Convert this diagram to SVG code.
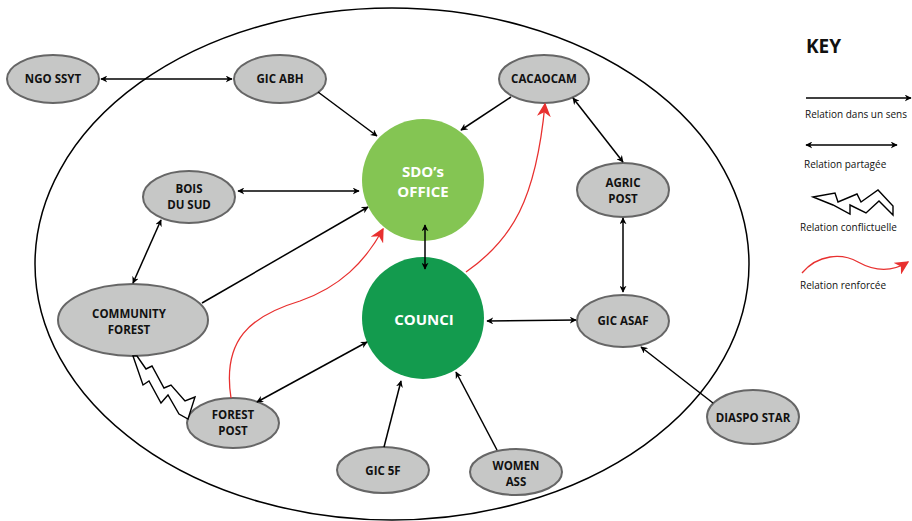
<svg xmlns="http://www.w3.org/2000/svg" width="912" height="521" viewBox="0 0 912 521">
<defs>
<marker id="ah" viewBox="0 0 10 10" refX="9" refY="5" markerWidth="7" markerHeight="7" orient="auto-start-reverse" markerUnits="userSpaceOnUse">
<path d="M0,0 L10,5 L0,10 L3,5 Z" fill="#000"/>
</marker>
<marker id="rh" viewBox="0 0 10 10" refX="9" refY="5" markerWidth="14" markerHeight="14" orient="auto" markerUnits="userSpaceOnUse">
<path d="M0,0 L10,5 L0,10 L3,5 Z" fill="#e8302f"/>
</marker>
<style>
.n ellipse{fill:#c6c7c6;stroke:#666;stroke-width:2}
.n text{font-family:"Open Sans","Liberation Sans",sans-serif;font-weight:bold;font-size:11.5px;fill:#111;text-anchor:middle}
.c text{font-family:"Open Sans","Liberation Sans",sans-serif;font-weight:bold;font-size:15px;fill:#fff;text-anchor:middle}
.l{fill:none;stroke:#000;stroke-width:1.5}
.one{marker-end:url(#ah)}
.two{marker-start:url(#ah);marker-end:url(#ah)}
.red{fill:none;stroke:#e8302f;stroke-width:1.3;marker-end:url(#rh)}
.zz{fill:#fff;stroke:#000;stroke-width:1.4;stroke-linejoin:miter}
.k{font-family:"Open Sans","Liberation Sans",sans-serif;font-size:10px;fill:#111}
</style>
</defs>
<rect width="912" height="521" fill="#fff"/>
<ellipse cx="392" cy="264" rx="357" ry="256" fill="none" stroke="#000" stroke-width="1.5"/>

<g id="sdo" class="c">
<circle cx="423" cy="180" r="61" fill="#84c553"/>
<text x="423" y="177">SDO’s</text>
<text x="423" y="197">OFFICE</text>
</g>
<g id="council" class="c">
<circle cx="423" cy="318" r="61" fill="#139b4e"/>
<text x="424" y="325">COUNCI</text>
</g>

<g id="ngo-ssyt" class="n"><ellipse cx="53" cy="79" rx="46" ry="24"/><text x="53" y="83">NGO SSYT</text></g>
<g id="gic-abh" class="n"><ellipse cx="280" cy="79" rx="46" ry="24"/><text x="280" y="83">GIC ABH</text></g>
<g id="cacaocam" class="n"><ellipse cx="544" cy="79" rx="45" ry="24"/><text x="544" y="83">CACAOCAM</text></g>
<g id="agric-post" class="n"><ellipse cx="623" cy="190" rx="46" ry="27"/><text x="623" y="187">AGRIC</text><text x="623" y="203">POST</text></g>
<g id="gic-asaf" class="n"><ellipse cx="623" cy="321" rx="46" ry="26"/><text x="623" y="325">GIC ASAF</text></g>
<g id="diaspo-star" class="n"><ellipse cx="753" cy="417" rx="46" ry="27"/><text x="753" y="422">DIASPO STAR</text></g>
<g id="bois-du-sud" class="n"><ellipse cx="189" cy="197" rx="46" ry="26"/><text x="189" y="193">BOIS</text><text x="189" y="209">DU SUD</text></g>
<g id="community-forest" class="n"><ellipse cx="133" cy="320" rx="75" ry="36"/><text x="129" y="318">COMMUNITY</text><text x="129" y="334">FOREST</text></g>
<g id="forest-post" class="n"><ellipse cx="233" cy="423" rx="46" ry="25"/><text x="233" y="419">FOREST</text><text x="233" y="435">POST</text></g>
<g id="gic-5f" class="n"><ellipse cx="383" cy="470" rx="46" ry="23"/><text x="383" y="475">GIC 5F</text></g>
<g id="women-ass" class="n"><ellipse cx="516" cy="472" rx="46" ry="23"/><text x="516" y="470">WOMEN</text><text x="516" y="486">ASS</text></g>

<g id="connectors">
<line class="l two" x1="101" y1="79" x2="232" y2="79"/>
<line class="l one" x1="318" y1="92" x2="377" y2="136"/>
<line class="l one" x1="511" y1="97" x2="461" y2="130"/>
<line class="l two" x1="238" y1="191" x2="359" y2="191"/>
<line class="l one" x1="202" y1="303" x2="368" y2="207"/>
<line class="l two" x1="161" y1="220" x2="133" y2="283"/>
<line class="l two" x1="425" y1="225" x2="425" y2="269"/>
<line class="l two" x1="257" y1="402" x2="367" y2="342"/>
<line class="l two" x1="573" y1="98" x2="623" y2="162"/>
<line class="l two" x1="623" y1="218" x2="623" y2="292"/>
<line class="l two" x1="487" y1="321" x2="576" y2="320"/>
<line class="l one" x1="713" y1="403" x2="641" y2="347"/>
<line class="l one" x1="384" y1="447" x2="401" y2="381"/>
<line class="l one" x1="497" y1="450" x2="456" y2="372"/>
<path class="red" d="M231,398 C222,340 250,316 300,301 C340,287 365,262 383,229"/>
<path class="red" d="M466,272 C512,240 536,200 545,104"/>
<path class="zz" d="M133,356 L143,385 L149,381 L161,403 L168,395 L179,414 L188,419 L195,397 L185,401 L171,385 L164,388 L152,366 L146,369 L137,356 Z"/>
</g>

<g id="key">
<text x="806" y="53" style="font-family:'Open Sans','Liberation Sans',sans-serif;font-weight:bold;font-size:19px;fill:#111">KEY</text>
<line class="l one" x1="806" y1="98" x2="911" y2="98"/>
<text class="k" x="805" y="118">Relation dans un sens</text>
<line class="l two" x1="806" y1="145" x2="897" y2="145"/>
<text class="k" x="804" y="168">Relation partagée</text>
<path class="zz" d="M813,197 L835,193 L838,202 L857,194 L861,202 L878,190 L893,206 L893,215 L879,201 L866,213 L850,205 L850,214 L833,205 Z"/>
<text class="k" x="800" y="231">Relation conflictuelle</text>
<path class="red" d="M802,273 C818,254 842,253 858,262 C876,272 892,272 908,262"/>
<text class="k" x="800" y="289">Relation renforcée</text>
</g>
</svg>
